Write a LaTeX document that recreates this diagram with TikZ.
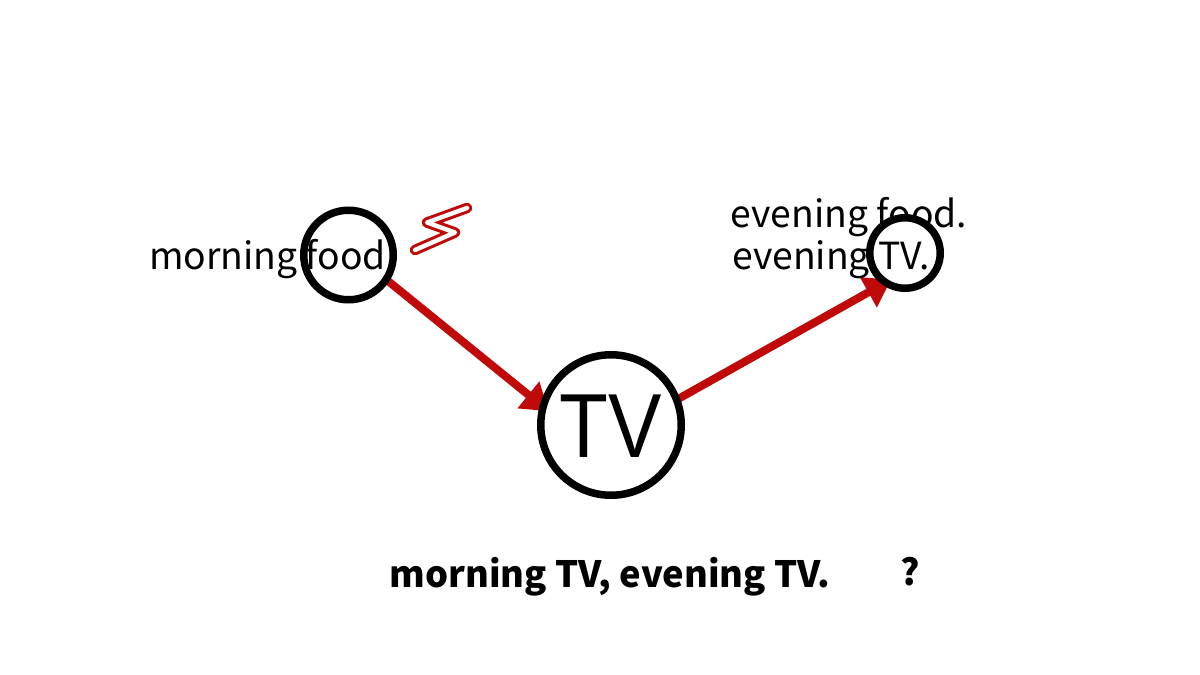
\documentclass[tikz,border=0pt]{standalone}
\usepackage{fontspec}
\setmainfont{Noto Sans CJK SC}
\newfontfamily\arialish[FakeStretch=0.88]{Liberation Sans}
\usetikzlibrary{arrows.meta}
\definecolor{arrowred}{HTML}{C00A0A}
\tikzset{
  x=1pt,y=-1pt,
  hub/.style={circle,inner sep=0pt,outer sep=0pt},
  disc/.style={hub,fill=white},
  ring/.style={hub,draw=black,line width=7.5pt},
  flow/.style={draw=arrowred,line width=8pt,-{Triangle[length=26pt,width=33pt]}},
  lbl/.style={inner sep=0pt,font=\fontsize{37.3}{38}\selectfont,text=black},
  boldlbl/.style={inner sep=0pt,font=\fontsize{36.3}{38}\selectfont\bfseries,text=black},
  boltout/.style={arrowred,line width=10.5pt,line cap=round,line join=round},
  boltin/.style={white,line width=4.4pt,line cap=round,line join=round},
}
\begin{document}
\begin{tikzpicture}
\useasboundingbox (0,0) rectangle (1200,675);
\node[lbl,anchor=base] (ef) at (849,227) {evening food.};
% hubs fix the anchors the arrows run between
\node[hub,minimum size=89.5pt] (mA) at (348.5,255) {};
\node[hub,minimum size=140.5pt] (tA) at (611,425) {};
\node[hub,minimum size=70.5pt] (eA) at (905,253) {};
\draw[flow,shorten >=-7pt] (mA.-33) -- (tA.165);
\draw[flow,shorten >=-6pt] (tA.21) -- (eA.237);
\node[disc,minimum size=89.5pt] (mD) at (mA) {};
\node[disc,minimum size=140.5pt] (tD) at (tA) {};
\node[disc,minimum size=70.5pt] (eD) at (eA) {};
\node[lbl,anchor=base west] (mf) at (149,269) {morning food.};
\node[lbl,anchor=base] (et) at (831,269) {evening TV.};
\node[inner sep=0pt,anchor=base,font=\arialish\fontsize{91}{92}\selectfont] (tv) at (611,457.5) {TV};
\node[ring,minimum size=89.5pt] (m) at (mA) {};
\node[ring,minimum size=140.5pt] (t) at (tA) {};
\node[ring,minimum size=70.5pt] (e) at (eA) {};
\node[boldlbl,anchor=base] (q1) at (610,587) {morning TV, evening TV.};
\node[boldlbl,anchor=base] (q2) at (910,585) {?};
\draw[boltout] (415,250) -- (455,232.5) -- (427,222.5) -- (467,208);
\draw[boltin] (415,250) -- (455,232.5) -- (427,222.5) -- (467,208);
\end{tikzpicture}
\end{document}
